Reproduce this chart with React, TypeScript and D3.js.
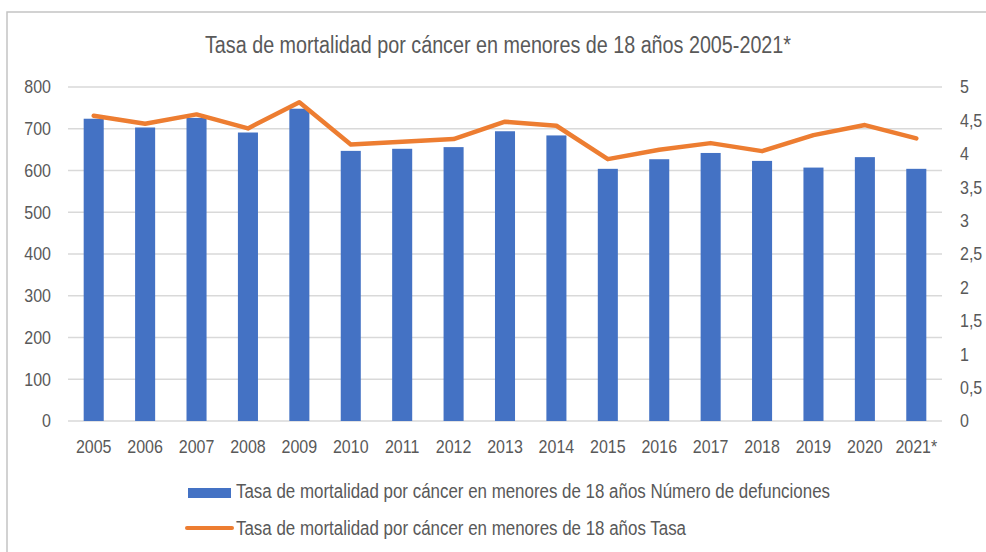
import React from 'react'
import * as d3 from 'd3'

const years = ['2005', '2006', '2007', '2008', '2009', '2010', '2011', '2012', '2013', '2014', '2015', '2016', '2017', '2018', '2019', '2020', '2021*']
const deaths = [724, 703, 726, 691, 748, 647, 652, 656, 694, 684, 604, 627, 642, 623, 607, 632, 604]
const rates = [4.57, 4.45, 4.59, 4.38, 4.77, 4.14, 4.18, 4.22, 4.48, 4.42, 3.92, 4.06, 4.16, 4.04, 4.28, 4.43, 4.23]
const leftTicks = [0, 100, 200, 300, 400, 500, 600, 700, 800]
const rightTicks = [0, 0.5, 1, 1.5, 2, 2.5, 3, 3.5, 4, 4.5, 5]

const title = 'Tasa de mortalidad por cáncer en menores de 18 años 2005-2021*'
const legendBars = 'Tasa de mortalidad por cáncer en menores de 18 años Número de defunciones'
const legendLine = 'Tasa de mortalidad por cáncer en menores de 18 años Tasa'

const W = 986
const H = 552
const layout = { left: 68, right: 942, top: 87, bottom: 421 }
const textColor = '#595959'
const font = '"Liberation Sans", Arial, sans-serif'
// the source text is squeezed sideways, so the tick labels get a horizontal squash
const squash = 0.89

export default function App() {
  const x = d3.scaleBand<string>()
    .domain(years)
    .range([layout.left, layout.right])
    .paddingInner(0.61)
    .paddingOuter(0.305)

  const yLeft = d3.scaleLinear().domain([0, 800]).range([layout.bottom, layout.top])
  const yRight = d3.scaleLinear().domain([0, 5]).range([layout.bottom, layout.top])

  const line = d3.line<number>()
    .x((_, i) => (x(years[i]) as number) + x.bandwidth() / 2)
    .y(d => yRight(d))

  const fmt = (v: number) => String(v).replace('.', ',')

  return (
    <svg width={W} height={H} style={{ position: 'absolute', left: 0, top: 0, background: '#fff' }} fontFamily={font}>
      {/* chart frame */}
      <rect x={7} y={12} width={990} height={560} fill="#fff" stroke="#c4c4c4" strokeWidth={1.5} />

      <text x={205} y={53} fontSize={23} fill={textColor} textLength={586} lengthAdjust="spacingAndGlyphs">{title}</text>

      {/* grid */}
      {leftTicks.map(t => (
        <line key={'g' + t} x1={layout.left} x2={layout.right} y1={yLeft(t)} y2={yLeft(t)} stroke="#d9d9d9" strokeWidth={1.5} />
      ))}

      {/* left axis labels */}
      {leftTicks.map(t => (
        <g key={'l' + t} transform={`translate(51,${yLeft(t)}) scale(${squash},1)`}>
          <text dy="0.35em" textAnchor="end" fontSize={18} fill={textColor}>{t}</text>
        </g>
      ))}

      {/* right axis labels */}
      {rightTicks.map(t => (
        <g key={'r' + t} transform={`translate(960,${yRight(t)}) scale(${squash},1)`}>
          <text dy="0.35em" textAnchor="start" fontSize={18} fill={textColor}>{fmt(t)}</text>
        </g>
      ))}

      {/* bars */}
      {deaths.map((d, i) => (
        <rect key={'b' + i} x={x(years[i])} y={yLeft(d)} width={x.bandwidth()} height={yLeft(0) - yLeft(d)} fill="#4472C4" />
      ))}

      {/* rate line */}
      <path d={line(rates) || ''} fill="none" stroke="#ED7D31" strokeWidth={4.5} strokeLinejoin="round" strokeLinecap="round" />

      {/* x labels */}
      {years.map(y => (
        <g key={'x' + y} transform={`translate(${(x(y) as number) + x.bandwidth() / 2},453) scale(${squash},1)`}>
          <text textAnchor="middle" fontSize={18} fill={textColor}>{y}</text>
        </g>
      ))}

      {/* legend */}
      <rect x={188} y={488} width={43} height={10} fill="#4472C4" />
      <text x={236} y={498} fontSize={20} fill={textColor} textLength={594} lengthAdjust="spacingAndGlyphs">{legendBars}</text>
      <line x1={187} x2={232} y1={528} y2={528} stroke="#ED7D31" strokeWidth={4} strokeLinecap="round" />
      <text x={236} y={535} fontSize={20} fill={textColor} textLength={450} lengthAdjust="spacingAndGlyphs">{legendLine}</text>
    </svg>
  )
}
